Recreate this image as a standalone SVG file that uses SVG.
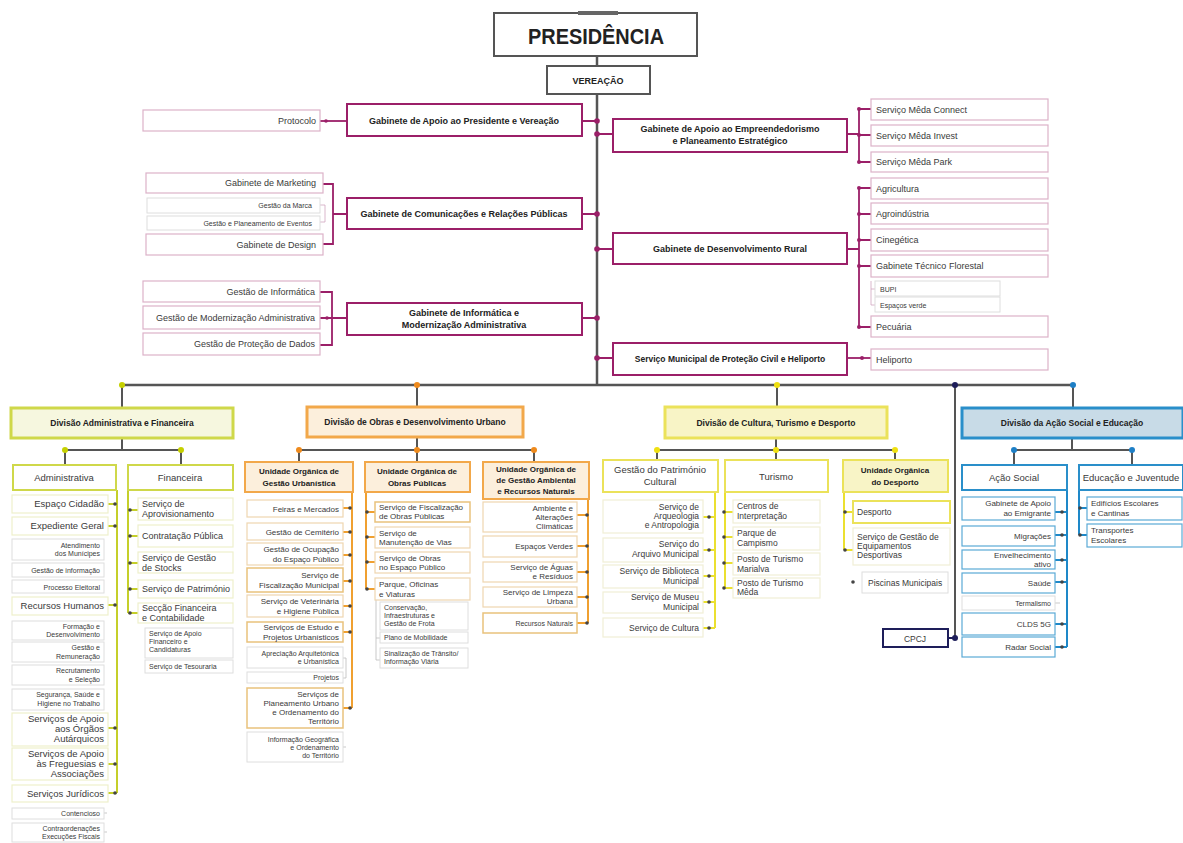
<svg xmlns="http://www.w3.org/2000/svg" width="1183" height="843" viewBox="0 0 1183 843">
<style>
.t{font-family:"Liberation Sans",Arial,sans-serif;fill:#3a3a3a;font-size:9px}
.b{font-weight:bold;fill:#222}
.m{text-anchor:middle}.e{text-anchor:end}
.s7{font-size:7px}.s8{font-size:8px}.s85{font-size:8.5px}.s95{font-size:9.5px}.s10{font-size:10px}
.gm{fill:#fff;stroke:#9b1f68;stroke-width:2}
.gs{fill:#fff;stroke:#dcb2c9;stroke-width:1.2}
.gx{fill:#fff;stroke:#dedede;stroke-width:1}
.d1{fill:#f6f7df;stroke:#cfd84a;stroke-width:3}
.y1{fill:#fff;stroke:#cfd84a;stroke-width:2}
.y1s{fill:#fff;stroke:#eef0cc;stroke-width:1.2}
.d2{fill:#fcefdc;stroke:#f2a84a;stroke-width:3}
.o2{fill:#fcefdc;stroke:#f2a84a;stroke-width:2}
.o2s{fill:#fff;stroke:#efd6b0;stroke-width:1.2}
.o2h{fill:#fff;stroke:#e9c27c;stroke-width:1.5}
.d3{fill:#f8f4c6;stroke:#ebe25a;stroke-width:3}
.y3{fill:#fff;stroke:#ebe25a;stroke-width:2}
.y3f{fill:#f8f4c6;stroke:#ebe25a;stroke-width:2}
.y3s{fill:#fff;stroke:#f1efd6;stroke-width:1.2}
.d4{fill:#c8dbe7;stroke:#2a8fca;stroke-width:3}
.b4{fill:#fff;stroke:#2a8fca;stroke-width:2}
.b4s{fill:#fff;stroke:#5aaad6;stroke-width:1.2}
.ln{stroke:#555;stroke-width:2.5;fill:none}
.lg{stroke:#555;stroke-width:2;fill:none}
.lm{stroke:#9b1f68;stroke-width:1.8;fill:none}
.lt{stroke:#d0a5bf;stroke-width:0.8;fill:none}
.l1{stroke:#c5cf2a;stroke-width:2;fill:none}
.l2{stroke:#f0a030;stroke-width:2;fill:none}
.l3{stroke:#ebe030;stroke-width:2;fill:none}
.l4{stroke:#1e88c8;stroke-width:2;fill:none}
.lx{stroke:#bbb;stroke-width:0.8;fill:none}
.dm{fill:#9b1f68}.dk{fill:#444}
</style>

<g id="connectors">
  <!-- trunk and bus -->
  <line class="ln" x1="597" y1="56" x2="597" y2="66"/>
  <line class="ln" x1="597" y1="94" x2="597" y2="386"/>
  <line class="ln" x1="122" y1="385" x2="1073" y2="385"/>
  <!-- gabinete links -->
  <path class="lm" d="M582 121H597M582 214H597M582 318H597M597 134H613M597 249H613M597 358H613"/>
  <path class="lm" d="M320 121H347"/>
  <path class="lm" d="M323 184H333V244H323M333 214H347"/>
  <path class="lt" d="M320 205H325V222H320"/>
  <path class="lm" d="M320 292H332V345H320M320 318H347"/>
  <path class="lm" d="M847 134H859M859 109V162M859 109H871M859 135H871M859 162H871"/>
  <path class="lm" d="M847 249H859M859 188V327M859 188H871M859 214H871M859 240H871M859 266H871M859 327H871"/>
  <path class="lt" d="M871 281V305H875M871 289H875"/>
  <path class="lm" d="M847 358H871"/>
  <g class="dm">
    <circle cx="597" cy="121" r="2.8"/><circle cx="597" cy="134" r="2.8"/><circle cx="597" cy="214" r="2.8"/>
    <circle cx="597" cy="249" r="2.8"/><circle cx="597" cy="318" r="2.8"/><circle cx="597" cy="358" r="2.8"/>
    <circle cx="326" cy="121" r="1.8"/><circle cx="327" cy="318" r="1.8"/>
    <circle cx="859" cy="109" r="2"/><circle cx="859" cy="135" r="2"/><circle cx="859" cy="162" r="2"/>
    <circle cx="859" cy="188" r="2"/><circle cx="859" cy="214" r="2"/><circle cx="859" cy="240" r="2"/>
    <circle cx="859" cy="266" r="2"/><circle cx="859" cy="327" r="2"/><circle cx="862" cy="358" r="2"/>
  </g>
  <!-- Div 1 -->
  <path class="lg" d="M122 385V408M122 438V450M65 450H181M65 450V465M181 450V465"/>
  <path class="l1" d="M117 490V793M108 504H117M108 526H117M108 605H117M108 728H117M108 764H117M108 793H117"/>
  <path class="l1" d="M128 490V613M128 510H138M128 536H138M128 563H138M128 589H138M128 613H138"/>
  <path class="lx" d="M104 813H107M104 832H107"/>
  <g class="dk">
    <circle cx="115" cy="504" r="1.8"/><circle cx="115" cy="526" r="1.8"/><circle cx="115" cy="605" r="1.8"/>
    <circle cx="115" cy="728" r="1.8"/><circle cx="115" cy="764" r="1.8"/><circle cx="115" cy="793" r="1.8"/>
    <circle cx="130" cy="510" r="1.8"/><circle cx="130" cy="536" r="1.8"/><circle cx="130" cy="563" r="1.8"/>
    <circle cx="130" cy="589" r="1.8"/><circle cx="130" cy="613" r="1.8"/>
  </g>
  <g fill="#c5d000"><circle cx="122" cy="385" r="3"/><circle cx="65" cy="450" r="3"/><circle cx="181" cy="450" r="3"/></g>
  <!-- Div 2 -->
  <path class="lg" d="M417 385V407M417 437V450M299 450H534M299 450V462M417 450V462M534 450V462"/>
  <path class="l2" d="M352 492V708M343 508H352M343 532H352M343 555H352M343 581H352M343 606H352M343 632H352M343 708H352"/>
  <path class="lx" d="M343 658H346V678H343M343 747H346"/>
  <path class="l2" d="M366 492V589M366 512H375M366 537H375M366 562H375M366 589H375"/>
  <path class="lx" d="M376 600V660H380M376 638H380"/>
  <path class="l2" d="M588 499V623M577 515H588M577 546H588M577 572H588M577 597H588M577 623H588"/>
  <g class="dk">
    <circle cx="350" cy="508" r="1.8"/><circle cx="350" cy="532" r="1.8"/><circle cx="350" cy="555" r="1.8"/>
    <circle cx="350" cy="581" r="1.8"/><circle cx="350" cy="606" r="1.8"/><circle cx="350" cy="632" r="1.8"/>
    <circle cx="350" cy="708" r="1.8"/>
    <circle cx="367" cy="512" r="1.8"/><circle cx="367" cy="537" r="1.8"/><circle cx="367" cy="562" r="1.8"/><circle cx="367" cy="589" r="1.8"/>
    <circle cx="587" cy="515" r="1.8"/><circle cx="587" cy="546" r="1.8"/><circle cx="587" cy="572" r="1.8"/>
    <circle cx="587" cy="597" r="1.8"/><circle cx="587" cy="623" r="1.8"/>
  </g>
  <g fill="#ee8a1c"><circle cx="417" cy="385" r="3"/><circle cx="299" cy="450" r="3"/><circle cx="417" cy="450" r="3"/><circle cx="534" cy="450" r="3"/></g>
  <!-- Div 3 -->
  <path class="lg" d="M777 385V407M776 438V450M657 450H895M657 450V460M776 450V460M895 450V460"/>
  <path class="l3" d="M715 492V628M703 517H715M703 550H715M703 576H715M703 602H715M703 628H715"/>
  <path class="l3" d="M725 492V588M725 512H733M725 537H733M725 563H733M725 588H733"/>
  <path class="l3" d="M844 492V550M844 512H853M844 550H853"/>
  <g class="dk">
    <circle cx="709" cy="517" r="1.8"/><circle cx="709" cy="550" r="1.8"/><circle cx="709" cy="576" r="1.8"/>
    <circle cx="709" cy="602" r="1.8"/><circle cx="709" cy="628" r="1.8"/>
    <circle cx="724" cy="512" r="1.8"/><circle cx="724" cy="537" r="1.8"/><circle cx="724" cy="563" r="1.8"/><circle cx="724" cy="588" r="1.8"/>
    <circle cx="845" cy="512" r="1.8"/><circle cx="845" cy="550" r="1.8"/><circle cx="853" cy="582" r="1.8"/>
  </g>
  <g fill="#efe010"><circle cx="777" cy="385" r="3"/><circle cx="657" cy="450" r="3"/><circle cx="776" cy="450" r="3"/><circle cx="895" cy="450" r="3"/></g>
  <!-- CPCJ -->
  <path class="lg" d="M955 385V638"/>
  <path stroke="#1e1e5a" stroke-width="2" d="M948 638H955"/>
  <g fill="#1e1e5a"><circle cx="955" cy="385" r="3"/><circle cx="955" cy="638" r="3"/></g>
  <!-- Div 4 -->
  <path class="lg" d="M1073 385V408M1072 438V450M1014 450H1132M1014 450V465M1132 450V465"/>
  <path class="l4" d="M1067 490V647M1055 512H1067M1055 535H1067M1055 560H1067M1055 582H1067M1055 624H1067M1055 647H1067"/>
  <path class="lx" d="M1055 603H1060"/>
  <path class="l4" d="M1079 490V535M1079 508H1087M1079 535H1087"/>
  <g class="dk">
    <circle cx="1062" cy="512" r="1.8"/><circle cx="1062" cy="535" r="1.8"/><circle cx="1062" cy="560" r="1.8"/>
    <circle cx="1062" cy="582" r="1.8"/><circle cx="1062" cy="624" r="1.8"/><circle cx="1062" cy="647" r="1.8"/>
    <circle cx="1080" cy="508" r="1.8"/><circle cx="1080" cy="535" r="1.8"/>
  </g>
  <g fill="#1e7fc6"><circle cx="1073" cy="385" r="3"/><circle cx="1014" cy="450" r="3"/><circle cx="1132" cy="450" r="3"/></g>
</g>

<!-- TOP -->
<g id="presidencia">
  <rect x="494" y="13" width="203" height="43" fill="#fff" stroke="#555" stroke-width="2"/>
  <rect x="578" y="11" width="40" height="4" fill="#666"/>
  <text class="t b m" x="596" y="44" style="font-size:22px" textLength="136" lengthAdjust="spacingAndGlyphs">PRESIDÊNCIA</text>
</g>
<g id="vereacao">
  <rect x="547" y="66" width="103" height="28" fill="#fff" stroke="#555" stroke-width="2"/>
  <text class="t b m" x="598" y="84">VEREAÇÃO</text>
</g>

<!-- LEFT GABINETES -->
<g id="gab-apoio-presidente">
  <rect class="gm" x="347" y="104" width="235" height="32"/>
  <text class="t b m" x="464" y="124">Gabinete de Apoio ao Presidente e  Vereação</text>
</g>
<g id="protocolo"><rect class="gs" x="143" y="110" width="177" height="21"/><text class="t e" x="316" y="124">Protocolo</text></g>

<g id="gab-comunicacoes">
  <rect class="gm" x="347" y="198" width="235" height="31"/>
  <text class="t b m" x="464" y="217">Gabinete de Comunicações e Relações Públicas</text>
</g>
<g id="marketing"><rect class="gs" x="146" y="173" width="177" height="20"/><text class="t e" x="316" y="186">Gabinete de Marketing</text></g>
<g id="gestao-marca"><rect class="gx" x="147" y="198" width="173" height="15"/><text class="t e s7" x="312" y="208">Gestão da Marca</text></g>
<g id="gestao-eventos"><rect class="gx" x="147" y="216" width="173" height="14"/><text class="t e s7" x="312" y="226">Gestão e Planeamento de Eventos</text></g>
<g id="design"><rect class="gs" x="146" y="234" width="177" height="21"/><text class="t e" x="316" y="248">Gabinete de Design</text></g>

<g id="gab-informatica">
  <rect class="gm" x="347" y="303" width="235" height="32"/>
  <text class="t b m" x="464" y="316">Gabinete de Informática e</text>
  <text class="t b m" x="464" y="328">Modernização Administrativa</text>
</g>
<g id="gestao-informatica"><rect class="gs" x="143" y="281" width="177" height="21"/><text class="t e" x="315" y="295">Gestão de Informática</text></g>
<g id="gestao-modernizacao"><rect class="gs" x="143" y="306" width="177" height="23"/><text class="t e" x="315" y="321">Gestão de Modernização Administrativa</text></g>
<g id="gestao-protecao-dados"><rect class="gs" x="143" y="333" width="177" height="22"/><text class="t e" x="315" y="347">Gestão de Proteção de Dados</text></g>

<!-- RIGHT GABINETES -->
<g id="gab-empreendedorismo">
  <rect class="gm" x="613" y="119" width="234" height="33"/>
  <text class="t b m" x="730" y="132">Gabinete de Apoio ao Empreendedorismo</text>
  <text class="t b m" x="730" y="144">e Planeamento Estratégico</text>
</g>
<g id="meda-connect"><rect class="gs" x="871" y="99" width="177" height="21"/><text class="t" x="876" y="113">Serviço Mêda Connect</text></g>
<g id="meda-invest"><rect class="gs" x="871" y="125" width="177" height="21"/><text class="t" x="876" y="139">Serviço Mêda Invest</text></g>
<g id="meda-park"><rect class="gs" x="871" y="152" width="177" height="20"/><text class="t" x="876" y="165">Serviço Mêda Park</text></g>

<g id="gab-rural">
  <rect class="gm" x="613" y="233" width="234" height="31"/>
  <text class="t b m" x="730" y="252">Gabinete de Desenvolvimento Rural</text>
</g>
<g id="agricultura"><rect class="gs" x="871" y="178" width="177" height="21"/><text class="t" x="876" y="192">Agricultura</text></g>
<g id="agroindustria"><rect class="gs" x="871" y="203" width="177" height="21"/><text class="t" x="876" y="217">Agroindústria</text></g>
<g id="cinegetica"><rect class="gs" x="871" y="229" width="177" height="22"/><text class="t" x="876" y="243">Cinegética</text></g>
<g id="florestal"><rect class="gs" x="871" y="255" width="177" height="22"/><text class="t" x="876" y="269">Gabinete Técnico Florestal</text></g>
<g id="bupi"><rect class="gx" x="875" y="281" width="125" height="15"/><text class="t s7" x="880" y="292">BUPI</text></g>
<g id="espacos-verde"><rect class="gx" x="875" y="297" width="125" height="15"/><text class="t s7" x="880" y="308">Espaços verde</text></g>
<g id="pecuaria"><rect class="gs" x="871" y="316" width="177" height="21"/><text class="t" x="876" y="330">Pecuária</text></g>

<g id="protecao-civil">
  <rect class="gm" x="613" y="343" width="234" height="32"/>
  <text class="t b m s85" x="730" y="362">Serviço Municipal de Proteção Civil e Heliporto</text>
</g>
<g id="heliporto"><rect class="gs" x="871" y="349" width="177" height="21"/><text class="t" x="876" y="363">Heliporto</text></g>

<!-- DIVISION 1 -->
<g id="div-adm-fin">
  <rect class="d1" x="11" y="408" width="222" height="30"/>
  <text class="t b m s85" x="122" y="426">Divisão Administrativa e Financeira</text>
</g>
<g id="administrativa"><rect class="y1" x="13" y="465" width="103" height="25"/><text class="t m s95" x="64" y="481">Administrativa</text></g>
<g id="financeira"><rect class="y1" x="128" y="465" width="105" height="25"/><text class="t m s95" x="180" y="481">Financeira</text></g>

<g id="espaco-cidadao"><rect class="y1s" x="12" y="495" width="96" height="18"/><text class="t e s95" x="104" y="507">Espaço Cidadão</text></g>
<g id="expediente-geral"><rect class="y1s" x="12" y="517" width="96" height="18"/><text class="t e s95" x="104" y="529">Expediente Geral</text></g>
<g id="atendimento"><rect class="gx" x="12" y="539" width="92" height="21"/><text class="t e s7" x="100" y="548">Atendimento</text><text class="t e s7" x="100" y="556">dos Munícipes</text></g>
<g id="gestao-informacao"><rect class="gx" x="12" y="563" width="92" height="14"/><text class="t e s7" x="100" y="573">Gestão de informação</text></g>
<g id="processo-eleitoral"><rect class="gx" x="12" y="580" width="92" height="13"/><text class="t e s7" x="100" y="590">Processo Eleitoral</text></g>
<g id="recursos-humanos"><rect class="y1s" x="12" y="597" width="96" height="18"/><text class="t e s95" x="104" y="609">Recursos Humanos</text></g>
<g id="formacao"><rect class="gx" x="12" y="621" width="92" height="19"/><text class="t e s7" x="100" y="629">Formação e</text><text class="t e s7" x="100" y="637">Desenvolvimento</text></g>
<g id="gestao-remuneracao"><rect class="gx" x="12" y="642" width="92" height="20"/><text class="t e s7" x="100" y="650">Gestão e</text><text class="t e s7" x="100" y="659">Remuneração</text></g>
<g id="recrutamento"><rect class="gx" x="12" y="665" width="92" height="20"/><text class="t e s7" x="100" y="673">Recrutamento</text><text class="t e s7" x="100" y="682">e Seleção</text></g>
<g id="seguranca"><rect class="gx" x="12" y="689" width="92" height="21"/><text class="t e s7" x="100" y="697">Segurança, Saúde e</text><text class="t e s7" x="100" y="706">Higiene no Trabalho</text></g>
<g id="apoio-orgaos"><rect class="y1s" x="12" y="713" width="96" height="33"/><text class="t e s95" x="104" y="722">Serviços de Apoio</text><text class="t e s95" x="104" y="732">aos Órgãos</text><text class="t e s95" x="104" y="742">Autárquicos</text></g>
<g id="apoio-freguesias"><rect class="y1s" x="12" y="748" width="96" height="32"/><text class="t e s95" x="104" y="757">Serviços de Apoio</text><text class="t e s95" x="104" y="767">às Freguesias e</text><text class="t e s95" x="104" y="777">Associações</text></g>
<g id="juridicos"><rect class="y1s" x="12" y="785" width="96" height="17"/><text class="t e s95" x="104" y="797">Serviços Jurídicos</text></g>
<g id="contencioso"><rect class="gx" x="12" y="808" width="92" height="11"/><text class="t e s7" x="100" y="816">Contencioso</text></g>
<g id="contraordenacoes"><rect class="gx" x="12" y="823" width="92" height="19"/><text class="t e s7" x="100" y="831">Contraordenações</text><text class="t e s7" x="100" y="839">Execuções Fiscais</text></g>

<g id="aprovisionamento"><rect class="y1s" x="138" y="498" width="95" height="22"/><text class="t" x="142" y="507">Serviço de</text><text class="t" x="142" y="517">Aprovisionamento</text></g>
<g id="contratacao"><rect class="y1s" x="138" y="525" width="95" height="22"/><text class="t" x="142" y="539">Contratação Pública</text></g>
<g id="stocks"><rect class="y1s" x="138" y="552" width="95" height="21"/><text class="t" x="142" y="561">Serviço de Gestão</text><text class="t" x="142" y="571">de Stocks</text></g>
<g id="patrimonio"><rect class="y1s" x="138" y="580" width="95" height="18"/><text class="t" x="142" y="592">Serviço de Património</text></g>
<g id="seccao-financeira"><rect class="y1s" x="138" y="603" width="95" height="20"/><text class="t" x="142" y="611">Secção Financeira</text><text class="t" x="142" y="621">e Contabilidade</text></g>
<g id="apoio-financeiro"><rect class="gx" x="145" y="628" width="88" height="30"/><text class="t s7" x="149" y="636">Serviço de Apoio</text><text class="t s7" x="149" y="644">Financeiro e</text><text class="t s7" x="149" y="652">Candidaturas</text></g>
<g id="tesouraria"><rect class="gx" x="145" y="660" width="88" height="13"/><text class="t s7" x="149" y="669">Serviço de Tesouraria</text></g>

<!-- DIVISION 2 -->
<g id="div-obras">
  <rect class="d2" x="307" y="407" width="216" height="30"/>
  <text class="t b m s85" x="415" y="425">Divisão de Obras e Desenvolvimento Urbano</text>
</g>
<g id="uo-urbanistica"><rect class="o2" x="245" y="462" width="108" height="30"/><text class="t b m s8" x="299" y="474">Unidade Orgânica de</text><text class="t b m s8" x="299" y="486">Gestão Urbanística</text></g>
<g id="uo-obras"><rect class="o2" x="365" y="462" width="105" height="30"/><text class="t b m s8" x="417" y="474">Unidade Orgânica de</text><text class="t b m s8" x="417" y="486">Obras Públicas</text></g>
<g id="uo-ambiental"><rect class="o2" x="483" y="462" width="106" height="37"/><text class="t b m s8" x="536" y="472">Unidade Orgânica de</text><text class="t b m s8" x="536" y="483">de Gestão Ambiental</text><text class="t b m s8" x="536" y="494">e Recursos Naturais</text></g>

<g id="feiras"><rect class="o2s" x="247" y="500" width="96" height="17"/><text class="t e s8" x="339" y="512">Feiras e Mercados</text></g>
<g id="cemiterio"><rect class="o2s" x="247" y="523" width="96" height="17"/><text class="t e s8" x="339" y="535">Gestão de Cemitério</text></g>
<g id="ocupacao"><rect class="o2s" x="247" y="543" width="96" height="22"/><text class="t e s8" x="339" y="552">Gestão de Ocupação</text><text class="t e s8" x="339" y="562">do Espaço Público</text></g>
<g id="fiscalizacao-municipal"><rect class="o2h" x="247" y="568" width="96" height="24"/><text class="t e s8" x="339" y="578">Serviço de</text><text class="t e s8" x="339" y="588">Fiscalização Municipal</text></g>
<g id="veterinaria"><rect class="o2s" x="247" y="595" width="96" height="22"/><text class="t e s8" x="339" y="604">Serviço de Veterinária</text><text class="t e s8" x="339" y="614">e Higiene Pública</text></g>
<g id="estudo-projetos"><rect class="o2h" x="247" y="622" width="96" height="20"/><text class="t e s8" x="339" y="630">Serviços de Estudo e</text><text class="t e s8" x="339" y="640">Projetos Urbanísticos</text></g>
<g id="apreciacao"><rect class="gx" x="247" y="647" width="96" height="21"/><text class="t e s7" x="339" y="656">Apreciação Arquitetónica</text><text class="t e s7" x="339" y="664">e Urbanística</text></g>
<g id="projetos"><rect class="gx" x="247" y="672" width="96" height="11"/><text class="t e s7" x="339" y="680">Projetos</text></g>
<g id="planeamento-urbano"><rect class="o2h" x="247" y="688" width="96" height="40"/><text class="t e s8" x="339" y="697">Serviços de</text><text class="t e s8" x="339" y="706">Planeamento Urbano</text><text class="t e s8" x="339" y="715">e Ordenamento do</text><text class="t e s8" x="339" y="724">Território</text></g>
<g id="informacao-geografica"><rect class="gx" x="247" y="732" width="96" height="30"/><text class="t e s7" x="339" y="742">Informação Geográfica</text><text class="t e s7" x="339" y="750">e Ordenamento</text><text class="t e s7" x="339" y="758">do Território</text></g>

<g id="fiscalizacao-obras"><rect class="o2h" x="375" y="502" width="95" height="20"/><text class="t s8" x="379" y="510">Serviço de Fiscalização</text><text class="t s8" x="379" y="519">de Obras Públicas</text></g>
<g id="manutencao-vias"><rect class="o2s" x="375" y="527" width="95" height="21"/><text class="t s8" x="379" y="536">Serviço de</text><text class="t s8" x="379" y="545">Manutenção de Vias</text></g>
<g id="obras-espaco"><rect class="o2s" x="375" y="552" width="95" height="21"/><text class="t s8" x="379" y="561">Serviço de Obras</text><text class="t s8" x="379" y="570">no Espaço Público</text></g>
<g id="parque-oficinas"><rect class="o2s" x="375" y="578" width="95" height="22"/><text class="t s8" x="379" y="587">Parque, Oficinas</text><text class="t s8" x="379" y="597">e Viaturas</text></g>
<g id="conservacao"><rect class="gx" x="380" y="602" width="88" height="28"/><text class="t s7" x="384" y="610">Conservação,</text><text class="t s7" x="384" y="618">Infraestruturas e</text><text class="t s7" x="384" y="626">Gestão de Frota</text></g>
<g id="mobilidade"><rect class="gx" x="380" y="632" width="88" height="11"/><text class="t s7" x="384" y="640">Plano de Mobilidade</text></g>
<g id="sinalizacao"><rect class="gx" x="380" y="648" width="88" height="20"/><text class="t s7" x="384" y="656">Sinalização de Trânsito/</text><text class="t s7" x="384" y="664">Informação Viária</text></g>

<g id="ambiente"><rect class="o2s" x="483" y="502" width="94" height="30"/><text class="t e s8" x="573" y="511">Ambiente e</text><text class="t e s8" x="573" y="520">Alterações</text><text class="t e s8" x="573" y="529">Climáticas</text></g>
<g id="espacos-verdes"><rect class="o2s" x="483" y="536" width="94" height="21"/><text class="t e s8" x="573" y="549">Espaços Verdes</text></g>
<g id="aguas-residuos"><rect class="o2s" x="483" y="562" width="94" height="20"/><text class="t e s8" x="573" y="570">Serviço de Águas</text><text class="t e s8" x="573" y="579">e Resíduos</text></g>
<g id="limpeza-urbana"><rect class="o2s" x="483" y="587" width="94" height="20"/><text class="t e s8" x="573" y="595">Serviço de Limpeza</text><text class="t e s8" x="573" y="604">Urbana</text></g>
<g id="recursos-naturais"><rect class="o2h" x="483" y="613" width="94" height="20"/><text class="t e s7" x="573" y="626">Recursos Naturais</text></g>

<!-- DIVISION 3 -->
<g id="div-cultura">
  <rect class="d3" x="665" y="407" width="222" height="31"/>
  <text class="t b m s85" x="776" y="426">Divisão de Cultura, Turismo e Desporto</text>
</g>
<g id="patrimonio-cultural"><rect class="y3" x="603" y="460" width="115" height="32"/><text class="t m s95" x="660" y="473">Gestão do Património</text><text class="t m s95" x="660" y="485">Cultural</text></g>
<g id="turismo"><rect class="y3" x="725" y="460" width="103" height="32"/><text class="t m s95" x="776" y="480">Turismo</text></g>
<g id="uo-desporto"><rect class="y3f" x="843" y="460" width="105" height="32"/><text class="t b m s8" x="895" y="473">Unidade Orgânica</text><text class="t b m s8" x="895" y="485">do Desporto</text></g>

<g id="arqueologia"><rect class="y3s" x="603" y="500" width="100" height="33"/><text class="t e s85" x="699" y="510">Serviço de</text><text class="t e s85" x="699" y="519">Arqueologia</text><text class="t e s85" x="699" y="528">e Antropologia</text></g>
<g id="arquivo"><rect class="y3s" x="603" y="538" width="100" height="24"/><text class="t e s85" x="699" y="547">Serviço do</text><text class="t e s85" x="699" y="557">Arquivo Municipal</text></g>
<g id="biblioteca"><rect class="y3s" x="603" y="565" width="100" height="23"/><text class="t e s85" x="699" y="574">Serviço de Biblioteca</text><text class="t e s85" x="699" y="584">Municipal</text></g>
<g id="museu"><rect class="y3s" x="603" y="592" width="100" height="21"/><text class="t e s85" x="699" y="600">Serviço de Museu</text><text class="t e s85" x="699" y="610">Municipal</text></g>
<g id="cultura"><rect class="y3s" x="603" y="618" width="100" height="19"/><text class="t e s85" x="699" y="631">Serviço de Cultura</text></g>

<g id="centros-interpretacao"><rect class="y3s" x="733" y="500" width="87" height="23"/><text class="t s85" x="737" y="509">Centros de</text><text class="t s85" x="737" y="519">Interpretação</text></g>
<g id="campismo"><rect class="y3s" x="733" y="527" width="87" height="23"/><text class="t s85" x="737" y="536">Parque de</text><text class="t s85" x="737" y="546">Campismo</text></g>
<g id="turismo-marialva"><rect class="y3s" x="733" y="553" width="87" height="22"/><text class="t s85" x="737" y="562">Posto de Turismo</text><text class="t s85" x="737" y="572">Marialva</text></g>
<g id="turismo-meda"><rect class="y3s" x="733" y="578" width="87" height="20"/><text class="t s85" x="737" y="586">Posto de Turismo</text><text class="t s85" x="737" y="595">Mêda</text></g>

<g id="desporto"><rect class="y3" x="853" y="501" width="97" height="22"/><text class="t s85" x="857" y="515">Desporto</text></g>
<g id="equipamentos"><rect class="y3s" x="853" y="528" width="97" height="37"/><text class="t s85" x="857" y="540">Serviço de Gestão de</text><text class="t s85" x="857" y="549">Equipamentos</text><text class="t s85" x="857" y="558">Desportivas</text></g>
<g id="piscinas"><rect class="gx" x="862" y="572" width="86" height="21"/><text class="t s85" x="868" y="586">Piscinas Municipais</text></g>

<g id="cpcj"><rect x="883" y="629" width="65" height="18" fill="#fff" stroke="#1e1e5a" stroke-width="2"/><text class="t m s85" x="915" y="642">CPCJ</text></g>

<!-- DIVISION 4 -->
<g id="div-acao-social">
  <rect class="d4" x="962" y="408" width="221" height="30"/>
  <text class="t b m s85" x="1072" y="426">Divisão da Ação Social e Educação</text>
</g>
<g id="acao-social"><rect class="b4" x="962" y="465" width="105" height="25"/><text class="t m s95" x="1014" y="481">Ação Social</text></g>
<g id="educacao"><rect class="b4" x="1079" y="465" width="104" height="25"/><text class="t m s95" x="1131" y="481">Educação e Juventude</text></g>

<g id="emigrante"><rect class="b4s" x="962" y="497" width="93" height="23"/><text class="t e s8" x="1051" y="506">Gabinete de Apoio</text><text class="t e s8" x="1051" y="516">ao Emigrante</text></g>
<g id="migracoes"><rect class="b4s" x="962" y="526" width="93" height="20"/><text class="t e s8" x="1051" y="539">Migrações</text></g>
<g id="envelhecimento"><rect class="b4s" x="962" y="550" width="93" height="19"/><text class="t e s8" x="1051" y="558">Envelhecimento</text><text class="t e s8" x="1051" y="567">ativo</text></g>
<g id="saude"><rect class="b4s" x="962" y="573" width="93" height="20"/><text class="t e s8" x="1051" y="586">Saúde</text></g>
<g id="termalismo"><rect class="gx" x="962" y="596" width="93" height="14"/><text class="t e s7" x="1051" y="606">Termalismo</text></g>
<g id="clds"><rect class="b4s" x="962" y="613" width="93" height="22"/><text class="t e s8" x="1051" y="627">CLDS 5G</text></g>
<g id="radar-social"><rect class="b4s" x="962" y="637" width="93" height="20"/><text class="t e s8" x="1051" y="650">Radar Social</text></g>

<g id="edificios-escolares"><rect class="b4s" x="1087" y="497" width="95" height="23"/><text class="t s8" x="1091" y="506">Edifícios Escolares</text><text class="t s8" x="1091" y="516">e Cantinas</text></g>
<g id="transportes-escolares"><rect class="b4s" x="1087" y="524" width="95" height="23"/><text class="t s8" x="1091" y="533">Transportes</text><text class="t s8" x="1091" y="543">Escolares</text></g>
</svg>
